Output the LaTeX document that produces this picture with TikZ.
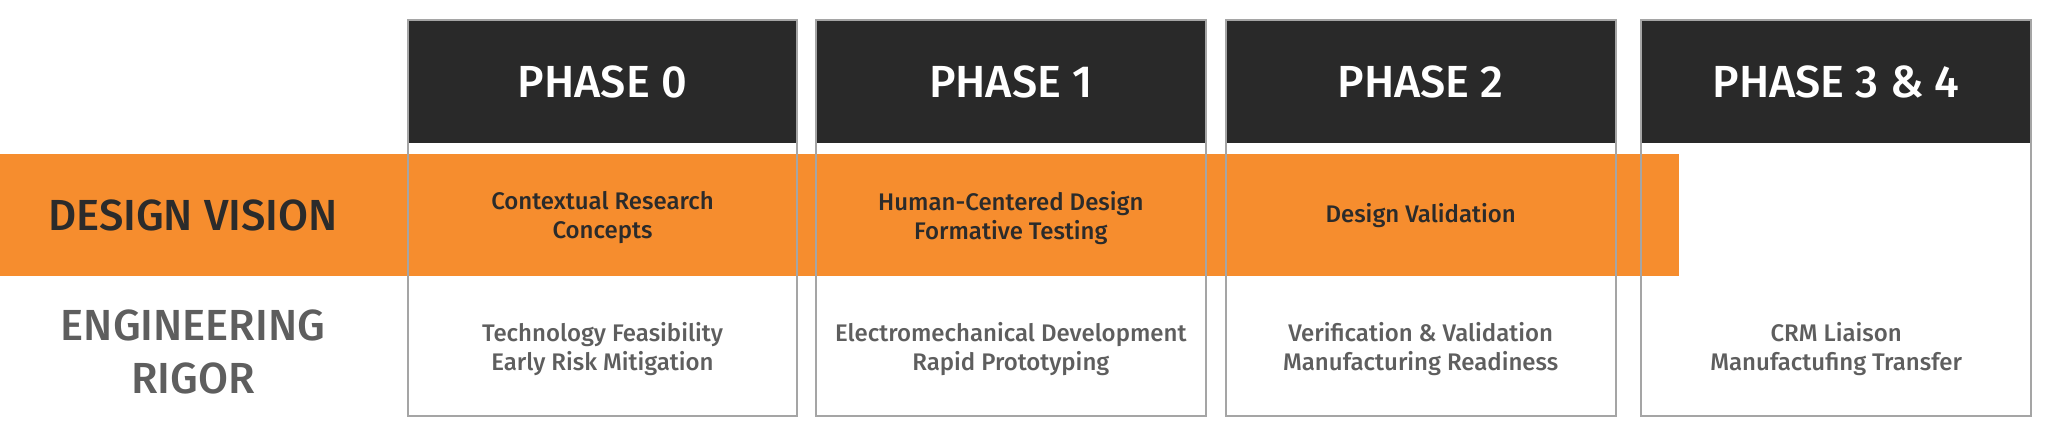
\documentclass[tikz,border=0pt]{standalone}
\usepackage{fontspec}
\setmainfont{Fira Sans Medium}[BoldFont={Fira Sans Medium}]
\definecolor{hdr}{HTML}{292929}
\definecolor{org}{HTML}{F68D2E}
\definecolor{brd}{HTML}{A5A5A5}
\definecolor{dtxt}{HTML}{2B2B2B}
\definecolor{gtxt}{HTML}{5E5E5E}
\tikzset{
  colbox/.style={draw=brd, line width=2pt, fill=white, inner sep=0pt, outer sep=0pt, minimum height=396pt},
  hdrbox/.style={fill=hdr, inner sep=0pt, outer sep=0pt, minimum height=123.3pt, text=white, font={\fontsize{45}{50}\selectfont}},
  bar/.style={fill=org, inner sep=0pt, outer sep=0pt},
  rowlabel/.style={align=center, inner sep=0pt, font={\fontsize{43.5}{52.5}\selectfont}},
  otext/.style={align=center, inner sep=0pt, text=dtxt, font={\fontsize{24}{29}\selectfont}},
  btext/.style={align=center, inner sep=0pt, text=gtxt, font={\fontsize{24}{29}\selectfont}},
}
\begin{document}
\begin{tikzpicture}[x=1pt,y=-1pt]
\useasboundingbox[fill=white] (0,0) rectangle (2048,435);
% column boxes
\node[colbox, minimum width=389.6pt] (c0) at (602.5,218) {};
\node[colbox, minimum width=389.7pt] (c1) at (1010.85,218) {};
\node[colbox, minimum width=390pt] (c2) at (1420.7,218) {};
\node[colbox, minimum width=389.7pt] (c3) at (1836.15,218) {};
% headers
\node[hdrbox, minimum width=389.6pt] (h0) at (602.5,81.65) {PHASE 0};
\node[hdrbox, minimum width=389.7pt] (h1) at (1010.85,81.65) {PHASE 1};
\node[hdrbox, minimum width=390pt] (h2) at (1420.7,81.65) {PHASE 2};
\node[hdrbox, minimum width=389.7pt] (h3) at (1836.15,81.65) {PHASE 3 \& 4};
% orange bar
\node[bar, minimum width=1679.3pt, minimum height=122.6pt] (ob) at (839.65,215) {};
% outlines on top
\foreach \c in {c0,c1,c2,c3}
  \draw[brd, line width=2pt] (\c.north west) rectangle (\c.south east);
% row labels
\node[rowlabel, text=dtxt] (dv) at (193,215) {DESIGN VISION};
\node[rowlabel, text=gtxt] (er) at (193,352) {ENGINEERING\\RIGOR};
% orange row texts
\node[otext] (o0) at (602.5,218) {Contextual Research\\Concepts};
\node[otext] (o1) at (1010.85,218) {Human-Centered Design\\Formative Testing};
\node[otext] (o2) at (1420.7,216) {Design Validation};
% bottom row texts
\node[btext] (b0) at (602.5,349) {Technology Feasibility\\Early Risk Mitigation};
\node[btext] (b1) at (1010.85,349) {Electromechanical Development\\Rapid Prototyping};
\node[btext] (b2) at (1420.7,349) {Verification \& Validation\\Manufacturing Readiness};
\node[btext] (b3) at (1836.15,349) {CRM Liaison\\Manufactufing Transfer};
\end{tikzpicture}
\end{document}
